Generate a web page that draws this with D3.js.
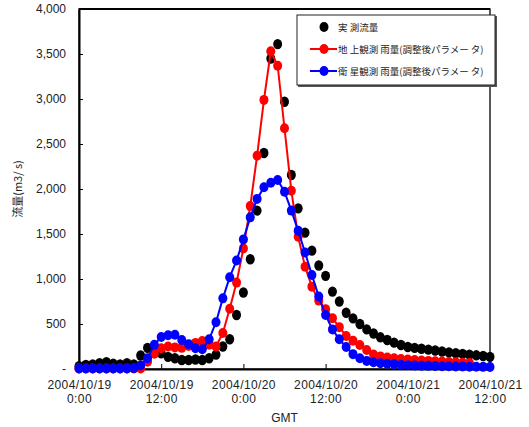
<!DOCTYPE html>
<html>
<head>
<meta charset="utf-8">
<script src="https://cdn.jsdelivr.net/npm/d3@7"></script>
<style>
  body { margin: 0; background: #fff; }
  text { font-family: "Liberation Sans", Arial, sans-serif; fill: #222; }
  .jp { font-family: "Noto Sans CJK JP", sans-serif; }
</style>
</head>
<body>
<div id="chart"></div>
<script>
const sizing = { width: 529, height: 427 }
const margin = { top: 9, left: 79, right: 39, bot: 58 }

// hours since 2004/10/19 0:00 GMT
const hours = d3.range(0, 61)

// 実測流量 (m3/s)
const observed = [30, 45, 50, 65, 75, 60, 50, 65, 50, 150,
  235, 220, 175, 135, 120, 100, 100, 105, 100, 120,
  160, 250, 330, 600, 850, 1220, 1760, 2400, 3450, 3610,
  2970, 2155, 1785, 1515, 1315, 1150, 1035, 860, 750, 625,
  563, 500, 440, 395, 352, 322, 293, 267, 245, 235,
  225, 215, 205, 195, 185, 175, 168, 160, 152, 145, 135]

// 地上観測雨量 (調整後パラメータ)
const ground = [5, 5, 5, 5, 5, 5, 5, 5, 5, 5,
  80, 170, 230, 250, 240, 235, 255, 290, 310, 270,
  250, 400, 670, 960, 1340, 1810, 2370, 2990, 3530, 3370,
  2675, 1980, 1470, 1137, 915, 760, 665, 565, 465, 367,
  315, 267, 211, 160, 140, 128, 120, 112, 105, 100,
  95, 90, 86, 82, 78, 74, 70, 67]

// 衛星観測雨量 (調整後パラメータ)
const satellite = [5, 5, 5, 5, 5, 5, 5, 5, 10, 40,
  120, 270, 355, 375, 380, 322, 275, 230, 220, 330,
  520, 785, 1020, 1205, 1440, 1685, 1890, 2020, 2070, 2100,
  1970, 1760, 1535, 1295, 1044, 805, 600, 440, 330, 245,
  165, 120, 90, 75, 65, 58, 52, 47, 43, 40,
  37, 35, 33, 31, 30, 28, 27, 26, 25, 24, 22]

const xTickHours = [0, 12, 24, 36, 48, 60]
const xTickDates = ["2004/10/19", "2004/10/19", "2004/10/20", "2004/10/20", "2004/10/21", "2004/10/21"]
const xTickTimes = ["0:00", "12:00", "0:00", "12:00", "0:00", "12:00"]
const yTicks = d3.range(0, 4001, 500)

const legendNames = ["実 測流量", "地 上観測 雨量(調整後パラメー タ)", "衛 星観測 雨量(調整後パラメー タ)"]
const colors = ["#000000", "#ff0000", "#0000ff"]

const svg = d3.select("#chart").append("svg")
    .attr("width", sizing.width)
    .attr("height", sizing.height)

const x = d3.scaleLinear().domain([0, 60])
    .range([margin.left, sizing.width - margin.right])
const y = d3.scaleLinear().domain([0, 4000])
    .range([sizing.height - margin.bot, margin.top])

// plot frame
svg.append("rect")
    .attr("x", x(0)).attr("y", y(4000))
    .attr("width", x(60) - x(0)).attr("height", y(0) - y(4000))
    .attr("fill", "none").attr("stroke", "#222").attr("stroke-width", 1.5)
svg.append("line")
    .attr("x1", x(0)).attr("x2", x(60)).attr("y1", y(4000)).attr("y2", y(4000))
    .attr("stroke", "#000").attr("stroke-width", 2)

const yAxis = svg.append("g")
    .attr("transform", `translate(${x(0)},0)`)
    .call(d3.axisLeft(y).tickValues(yTicks).tickSizeInner(-4).tickSizeOuter(0).tickPadding(13)
        .tickFormat(d => d === 0 ? "-" : d3.format(",")(d)))
yAxis.select(".domain").attr("stroke", "#000").attr("stroke-width", 2)
yAxis.selectAll("text").style("font-size", "12px").attr("fill", "#222")

const xAxis = svg.append("g")
    .attr("transform", `translate(0,${y(0)})`)
    .call(d3.axisBottom(x).tickValues(xTickHours).tickSizeInner(-5).tickSizeOuter(0).tickFormat(""))
xAxis.select(".domain").attr("stroke", "#000").attr("stroke-width", 2)

xAxis.selectAll(".tick").each(function(d, i) {
    const t = d3.select(this).append("text")
        .attr("text-anchor", "middle")
        .attr("fill", "#222")
        .style("font-size", "12px")
        .style("letter-spacing", "0.4px")
    t.append("tspan").attr("x", 0).attr("y", 20).text(xTickDates[i])
    t.append("tspan").attr("x", 0).attr("y", 34).text(xTickTimes[i])
})

svg.append("text")
    .attr("x", (x(0) + x(60)) / 2).attr("y", 422)
    .attr("text-anchor", "middle")
    .style("font-size", "12px")
    .text("GMT")

svg.append("text")
    .attr("class", "jp")
    .attr("transform", `translate(22,${(y(0) + y(4000)) / 2}) rotate(-90)`)
    .attr("text-anchor", "middle")
    .style("font-size", "11px")
    .text("流量(m3/ s)")

const elementsGroup = svg.append("g")

// observed: markers only
elementsGroup.append("g").selectAll("ellipse")
    .data(hours.map((h, i) => ({ h: h, v: observed[i] })))
    .join("ellipse")
    .attr("cx", d => x(d.h)).attr("cy", d => y(d.v))
    .attr("rx", 4.5).attr("ry", 5.2)
    .attr("fill", colors[0])

const line = d3.line().x(d => x(d.h)).y(d => y(d.v))

const drawSeries = function(values, color) {
    const data = values.map((v, i) => ({ h: hours[i], v: v }))
    const g = elementsGroup.append("g")
    g.append("path").datum(data)
        .attr("d", line)
        .attr("fill", "none").attr("stroke", color).attr("stroke-width", 2)
    g.selectAll("ellipse").data(data).join("ellipse")
        .attr("cx", d => x(d.h)).attr("cy", d => y(d.v))
        .attr("rx", 4.5).attr("ry", 5)
        .attr("fill", color)
}
drawSeries(ground, colors[1])
drawSeries(satellite, colors[2])

// legend
const legend = svg.append("g").attr("transform", "translate(297,15)")
legend.append("rect")
    .attr("x", 1).attr("y", 1).attr("width", 199).attr("height", 71)
    .attr("fill", "#555")
legend.append("rect")
    .attr("width", 198).attr("height", 70)
    .attr("fill", "#fff").attr("stroke", "#222").attr("stroke-width", 1)

legendNames.forEach((name, i) => {
    const ly = 12 + i * 22
    if (i > 0) {
        legend.append("line")
            .attr("x1", 13).attr("x2", 40).attr("y1", ly).attr("y2", ly)
            .attr("stroke", colors[i]).attr("stroke-width", 2)
    }
    legend.append("ellipse")
        .attr("cx", 27).attr("cy", ly).attr("rx", 4.5).attr("ry", 5)
        .attr("fill", colors[i])
    legend.append("text")
        .attr("class", "jp")
        .attr("x", 41).attr("y", ly + 4)
        .style("font-size", "9.5px")
        .text(name)
})
</script>
</body>
</html>
